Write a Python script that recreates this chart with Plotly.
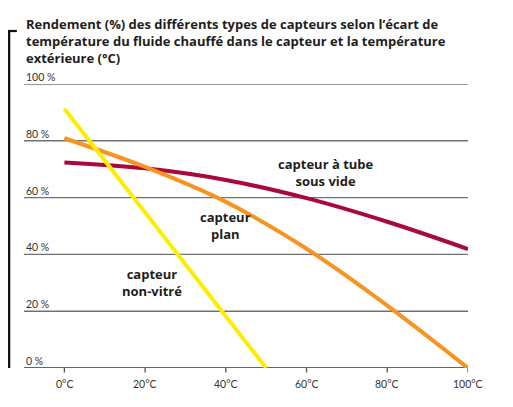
import plotly.graph_objects as go

# Data
temps = [0, 20, 40, 60, 80, 100]
tube_sous_vide = [72.4, 70.3, 66.2, 59.8, 51.5, 41.9]
capteur_plan = [80.9, 70.8, 58.5, 42.0, 22.0, 0.0]
nonvitre_x = [0, 50]
nonvitre_y = [91.3, 0.0]

x_ticks = [0, 20, 40, 60, 80, 100]
x_tick_labels = ["0°C", "20°C", "40°C", "60°C", "80°C", "100°C"]
y_ticks = [0, 20, 40, 60, 80, 100]
y_tick_labels = ["0 %", "20 %", "40 %", "60 %", "80 %", "100 %"]

title = ("Rendement (%) des différents types de capteurs selon l’écart de<br>"
         "température du fluide chauffé dans le capteur et la température<br>"
         "extérieure (°C)")

# (text, x in °C, y in %)
curve_labels = [
    ("capteur à tube<br>sous vide", 64.7, 69.0),
    ("capteur<br>plan", 39.9, 50.2),
    ("capteur<br>non-vitré", 21.8, 30.2),
]

RED = "#A8083A"
ORANGE = "#F7931E"
YELLOW = "#FFED00"
TICK_FONT = "Lato"
TEXT_FONT = "Open Sans"

# plot area in window pixels: x 24..460, y 84..368 ; body margin 8px
PX_W = 436.0
PX_H = 284.0

def px_x(wx):
    return (wx - 24) / PX_W

def px_y(wy):
    return (368 - wy) / PX_H

fig = go.Figure()
fig.add_trace(go.Scatter(x=temps, y=tube_sous_vide, mode="lines",
                         line=dict(color=RED, width=4, shape="spline"), hoverinfo="skip"))
fig.add_trace(go.Scatter(x=temps, y=capteur_plan, mode="lines",
                         line=dict(color=ORANGE, width=4, shape="spline"), hoverinfo="skip"))
fig.add_trace(go.Scatter(x=nonvitre_x, y=nonvitre_y, mode="lines",
                         line=dict(color=YELLOW, width=4), hoverinfo="skip"))

shapes = []
for v in y_ticks:
    shapes.append(dict(type="line", xref="paper", yref="y", x0=0, x1=1, y0=v, y1=v,
                       line=dict(color="#333333" if v == 0 else "#707070", width=1.4),
                       layer="below"))
for t in x_ticks:
    shapes.append(dict(type="line", xref="x", yref="paper", x0=t, x1=t, y0=0, y1=-0.016,
                       line=dict(color="#555555", width=1.3)))
# left black bracket
shapes.append(dict(type="line", xref="paper", yref="paper", x0=px_x(9.3), x1=px_x(9.3),
                   y0=0, y1=px_y(31), line=dict(color="#111111", width=2.5)))
shapes.append(dict(type="line", xref="paper", yref="paper", x0=px_x(8), x1=px_x(17),
                   y0=px_y(31), y1=px_y(31), line=dict(color="#111111", width=2.2)))

annotations = []
for v, lab in zip(y_ticks, y_tick_labels):
    annotations.append(dict(x=0, y=v, xref="paper", yref="y", text=lab, showarrow=False,
                            xanchor="left", yanchor="bottom", yshift=-1,
                            font=dict(family=TICK_FONT, size=10.5, color="#333333")))
for t, lab in zip(x_ticks, x_tick_labels):
    annotations.append(dict(x=t, y=0, xref="x", yref="paper", text=lab, showarrow=False,
                            xanchor="center", yanchor="top", yshift=-8,
                            font=dict(family=TICK_FONT, size=10.5, color="#333333")))
for txt, lx, ly in curve_labels:
    annotations.append(dict(x=lx, y=ly, xref="x", yref="y", text="<b>" + txt + "</b>",
                            showarrow=False, xanchor="center", yanchor="middle",
                            font=dict(family=TEXT_FONT, size=13, color="#1E1E1E")))
annotations.append(dict(x=0, y=px_y(13), xref="paper", yref="paper",
                        text="<b>" + title + "</b>", showarrow=False,
                        xanchor="left", yanchor="top", align="left",
                        font=dict(family=TEXT_FONT, size=13, color="#1E1E1E")))

fig.update_layout(
    width=505, height=399,
    margin=dict(l=16, r=45, t=76, b=39),
    paper_bgcolor="white", plot_bgcolor="white",
    showlegend=False,
    xaxis=dict(range=[-10, 100], showgrid=False, zeroline=False, showticklabels=False,
               showline=False, fixedrange=True),
    yaxis=dict(range=[0, 100], showgrid=False, zeroline=False, showticklabels=False,
               showline=False, fixedrange=True),
    shapes=shapes,
    annotations=annotations,
)

fig.write_html("out.html")
